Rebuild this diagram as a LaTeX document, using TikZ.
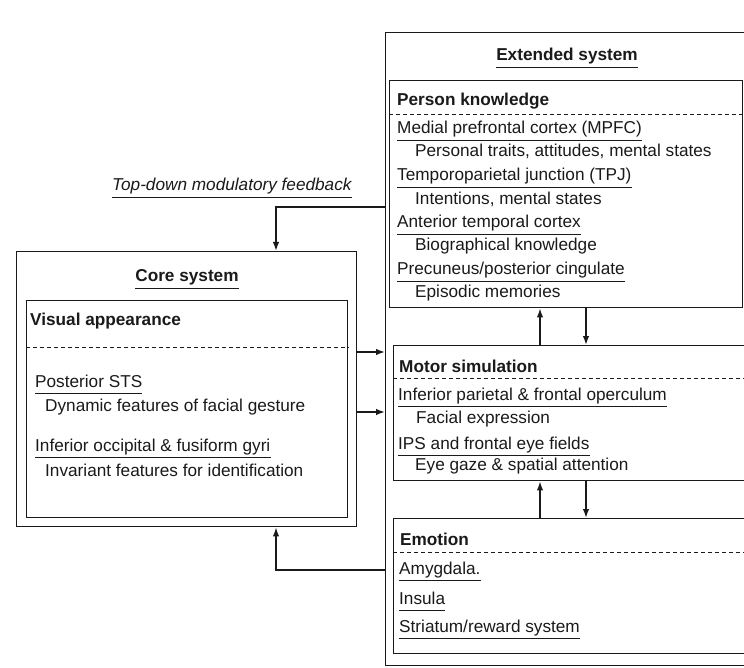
\documentclass[tikz,border=0pt]{standalone}
\usepackage{fontspec}
\setmainfont{Liberation Sans}
\usetikzlibrary{arrows.meta,positioning}
\definecolor{ink}{HTML}{1A1A1A}
\tikzset{
  frame/.style={draw=ink,line width=1.4pt,anchor=north west,inner sep=0pt},
  txt/.style={font=\fontsize{17.2}{20}\selectfont,text=ink,inner sep=0pt,text height=12pt,text depth=6pt,anchor=base west},
  head/.style={txt,font=\bfseries\fontsize{17.2}{20}\selectfont},
  uline/.style={draw=ink,line width=1.2pt},
  dashln/.style={draw=ink,line width=1pt,dash pattern=on 4pt off 3pt},
  arr/.style={-{Latex[length=9pt,width=6.5pt]},draw=ink,line width=1.5pt}
}
\begin{document}
\begin{tikzpicture}[x=1pt,y=-1pt]
\path[use as bounding box,fill=white] (0,0) rectangle (744,668);
\clip (0,0) rectangle (744,668);
% boxes
\node[frame,minimum width=380,minimum height=633] (ext) at (385,32) {};
\node[frame,minimum width=353,minimum height=227] (pk) at (389,80) {};
\node[frame,minimum width=360,minimum height=135] (motor) at (393,345) {};
\node[frame,minimum width=360,minimum height=135] (emo) at (393,518) {};
\node[frame,minimum width=340,minimum height=275] (core) at (16,251) {};
\node[frame,minimum width=321,minimum height=217] (visual) at (26,300) {};
\draw[dashln] ([yshift=-35pt]pk.north west) -- ([yshift=-35pt]pk.north east);
\draw[dashln] ([yshift=-33pt]motor.north west) -- ([yshift=-33pt]motor.north east);
\draw[dashln] ([yshift=-34pt]emo.north west) -- ([yshift=-34pt]emo.north east);
\draw[dashln] ([yshift=-47pt]visual.north west) -- ([yshift=-47pt]visual.north east);
% titles
\node[head,anchor=base] (extT) at (567,61) {Extended system};
\node[head,anchor=base] (coreT) at (187,282) {Core system};
\node[txt,font=\itshape\fontsize{17.2}{20}\selectfont] (fbT) at (112,191) {Top-down modulatory feedback};
% person knowledge
\node[head] (pkT) at (397,106) {Person knowledge};
\node[txt] (mpfc) at (397,134) {Medial prefrontal cortex (MPFC)};
\node[txt] (mpfcD) at (415,157) {Personal traits, attitudes, mental states};
\node[txt] (tpj) at (397,181) {Temporoparietal junction (TPJ)};
\node[txt] (tpjD) at (415,205) {Intentions, mental states};
\node[txt] (atc) at (397,228) {Anterior temporal cortex};
\node[txt] (atcD) at (415,251) {Biographical knowledge};
\node[txt] (prec) at (397,275) {Precuneus/posterior cingulate};
\node[txt] (precD) at (415,298) {Episodic memories};
% motor simulation
\node[head] (motorT) at (399,372) {Motor simulation};
\node[txt] (ipfo) at (398,400) {Inferior parietal \& frontal operculum};
\node[txt] (ipfoD) at (416,423) {Facial expression};
\node[txt] (ipsf) at (398,449) {IPS and frontal eye fields};
\node[txt] (ipsfD) at (415,470) {Eye gaze \& spatial attention};
% emotion
\node[head] (emoT) at (400,545) {Emotion};
\node[txt] (amy) at (399,574) {Amygdala.};
\node[txt] (ins) at (399,604) {Insula};
\node[txt] (stri) at (399,632) {Striatum/reward system};
% core system
\node[head] (visT) at (30,325) {Visual appearance};
\node[txt] (psts) at (35,387) {Posterior STS};
\node[txt] (pstsD) at (45,411) {Dynamic features of facial gesture};
\node[txt] (iofg) at (35,451) {Inferior occipital \& fusiform gyri};
\node[txt] (iofgD) at (45,476) {Invariant features for identification};
\foreach \n in {extT,coreT,fbT,mpfc,tpj,atc,prec,ipfo,ipsf,amy,ins,stri,psts,iofg}
  \draw[uline] (\n.south west) -- (\n.south east);
% connectors
\coordinate (fbTop) at (276,207);
\coordinate (fbBot) at (276,570);
\coordinate (inA) at (0,352);
\coordinate (inB) at (0,412);
\coordinate (upX) at (540,0);
\coordinate (dnX) at (586,0);
\draw[arr] (ext.west |- fbTop) -- (fbTop) -- (core.north -| fbTop);
\draw[arr] (ext.west |- fbBot) -- (fbBot) -- (core.south -| fbBot);
\draw[arr] (core.east |- inA) -- (ext.west |- inA);
\draw[arr] (core.east |- inB) -- (ext.west |- inB);
\draw[arr] (motor.north -| upX) -- (pk.south -| upX);
\draw[arr] (pk.south -| dnX) -- (motor.north -| dnX);
\draw[arr] (emo.north -| upX) -- (motor.south -| upX);
\draw[arr] (motor.south -| dnX) -- (emo.north -| dnX);
\end{tikzpicture}
\end{document}
